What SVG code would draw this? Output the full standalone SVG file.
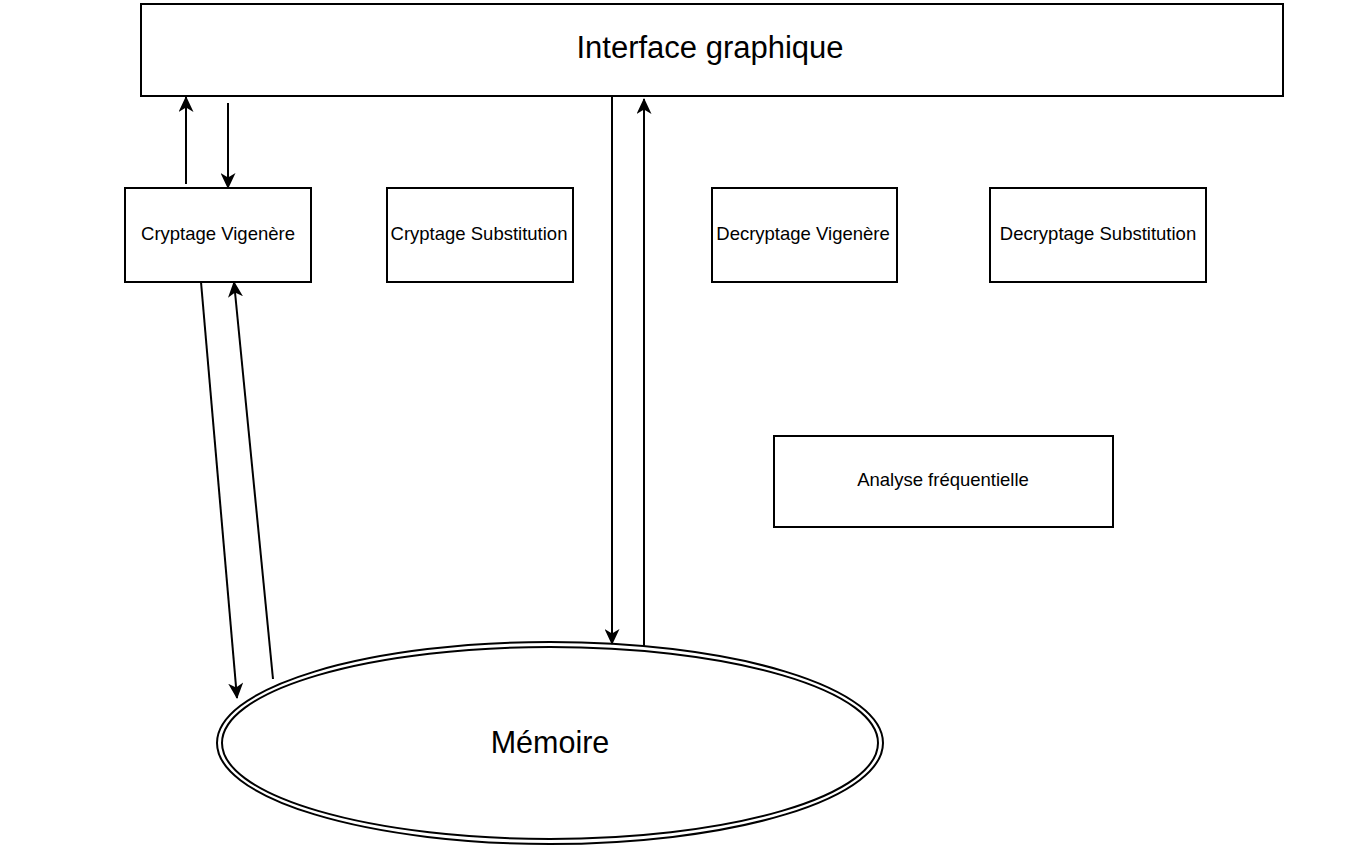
<svg xmlns="http://www.w3.org/2000/svg" width="1368" height="853" viewBox="0 0 1368 853">
<defs>
<marker id="ah" markerWidth="16" markerHeight="15" refX="15" refY="7.5" orient="auto" markerUnits="userSpaceOnUse" viewBox="0 0 16 15">
<path d="M0,0 L16,7.5 L0,15 L4.5,7.5 Z" fill="#000"/>
</marker>
<style>
.box{fill:#fff;stroke:#000;stroke-width:2}
.t{font-family:"Liberation Sans",Arial,sans-serif;fill:#000;text-anchor:middle;dominant-baseline:central}
.s{font-size:18.5px}
.c{stroke:#000;stroke-width:2;fill:none;marker-end:url(#ah)}
</style>
</defs>
<rect width="1368" height="853" fill="#fff"/>
<g id="interface">
<rect class="box" x="141" y="4" width="1142" height="92"/>
<text class="t" x="710" y="47" font-size="31">Interface graphique</text>
</g>
<g id="cryptVig">
<rect class="box" x="125" y="188" width="186" height="94"/>
<text class="t s" x="218" y="233">Cryptage Vigenère</text>
</g>
<g id="cryptSub">
<rect class="box" x="387" y="188" width="186" height="94"/>
<text class="t s" x="479" y="233">Cryptage Substitution</text>
</g>
<g id="decryptVig">
<rect class="box" x="712" y="188" width="185" height="94"/>
<text class="t s" x="803" y="233">Decryptage Vigenère</text>
</g>
<g id="decryptSub">
<rect class="box" x="990" y="188" width="216" height="94"/>
<text class="t s" x="1098" y="233">Decryptage Substitution</text>
</g>
<g id="analyse">
<rect class="box" x="774" y="436" width="339" height="91"/>
<text class="t s" x="943" y="479">Analyse fréquentielle</text>
</g>
<g id="memoire">
<ellipse cx="550" cy="743" rx="333" ry="101" fill="#fff" stroke="#000" stroke-width="2"/>
<ellipse cx="550" cy="743" rx="328" ry="96" fill="none" stroke="#000" stroke-width="2"/>
<text class="t" x="550" y="742" font-size="30.5">Mémoire</text>
</g>
<g id="connectors">
<line class="c" x1="186" y1="184" x2="186" y2="97"/>
<line class="c" x1="228" y1="103" x2="228" y2="188"/>
<line class="c" x1="201" y1="282" x2="237" y2="698"/>
<line class="c" x1="273" y1="679" x2="234" y2="282"/>
<line class="c" x1="612" y1="96" x2="612" y2="644"/>
<line class="c" x1="644" y1="647" x2="644" y2="99"/>
</g>
</svg>
